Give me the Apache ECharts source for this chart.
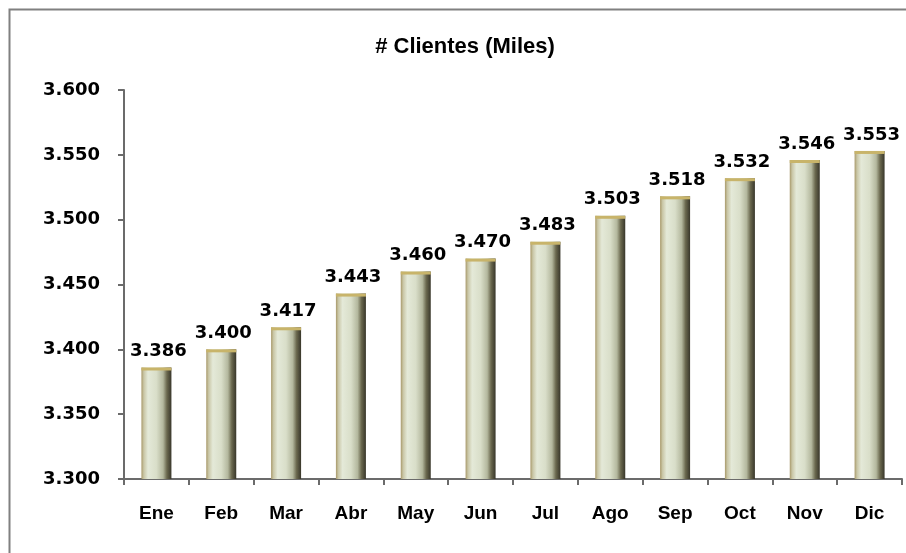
<!DOCTYPE html>
<html>
<head>
<meta charset="utf-8">
<script src="https://cdn.jsdelivr.net/npm/echarts@6/dist/echarts.min.js"></script>
<style>
  html, body { margin: 0; padding: 0; background: #fff; }
  #chart { width: 906px; height: 553px; }
</style>
</head>
<body>
<div id="chart"></div>
<script>
// datos del grafico
var meses = ["Ene", "Feb", "Mar", "Abr", "May", "Jun", "Jul", "Ago", "Sep", "Oct", "Nov", "Dic"];
var clientes = [3.386, 3.400, 3.417, 3.443, 3.460, 3.470, 3.483, 3.503, 3.518, 3.532, 3.546, 3.553];
var titulo = "# Clientes (Miles)";

var myChart = echarts.init(document.getElementById("chart"));

// gradiente horizontal para simular la barra cilindrica
var relleno = new echarts.graphic.LinearGradient(0, 0, 1, 0, [
  { offset: 0, color: "#a8996a" },
  { offset: 0.08, color: "#c9c6a6" },
  { offset: 0.22, color: "#e4e9d8" },
  { offset: 0.5, color: "#d9dec9" },
  { offset: 0.72, color: "#b4b89e" },
  { offset: 0.85, color: "#6a684e" },
  { offset: 1, color: "#38362a" }
]);

myChart.setOption({
  animation: false,
  graphic: [
    {
      type: "rect",
      shape: { x: 9.5, y: 9.5, width: 1000, height: 700 },
      style: { fill: "none", stroke: "#808080", lineWidth: 2 },
      silent: true
    }
  ],
  title: {
    text: titulo,
    left: 460,
    top: 31,
    textAlign: "center",
    textStyle: {
      fontFamily: "Liberation Sans",
      fontWeight: "bold",
      fontSize: 22,
      color: "#000"
    }
  },
  grid: {
    left: 124,
    right: 4,
    top: 90,
    bottom: 74
  },
  xAxis: {
    type: "category",
    data: meses,
    axisLine: { lineStyle: { color: "#6b6b6b", width: 2 } },
    axisTick: { show: true, length: 6, lineStyle: { color: "#6b6b6b", width: 2 } },
    axisLabel: {
      margin: 25,
      fontFamily: "Liberation Sans",
      fontWeight: "bold",
      fontSize: 19,
      color: "#000"
    }
  },
  yAxis: {
    type: "value",
    min: 3.3,
    max: 3.6,
    interval: 0.05,
    splitLine: { show: false },
    axisLine: { show: true, lineStyle: { color: "#6b6b6b", width: 2 } },
    axisTick: { show: true, length: 6, lineStyle: { color: "#6b6b6b", width: 2 } },
    axisLabel: {
      margin: 24,
      fontFamily: "DejaVu Sans",
      fontWeight: "bold",
      fontSize: 18,
      color: "#000",
      formatter: function (v) { return v.toFixed(3); }
    }
  },
  series: [
    {
      type: "bar",
      data: clientes,
      barWidth: 30,
      itemStyle: { color: relleno },
      label: {
        show: true,
        position: "top",
        distance: 7,
        offset: [2, 0],
        fontFamily: "DejaVu Sans",
        fontWeight: "bold",
        fontSize: 18,
        color: "#000",
        formatter: function (p) { return p.value.toFixed(3); }
      }
    },
    {
      // tapa dorada de cada barra
      type: "pictorialBar",
      data: clientes,
      symbol: "rect",
      symbolSize: [30, 3],
      symbolPosition: "end",
      barGap: "-100%",
      z: 3,
      itemStyle: { color: "#c8b46a" },
      silent: true
    }
  ]
});
</script>
</body>
</html>
